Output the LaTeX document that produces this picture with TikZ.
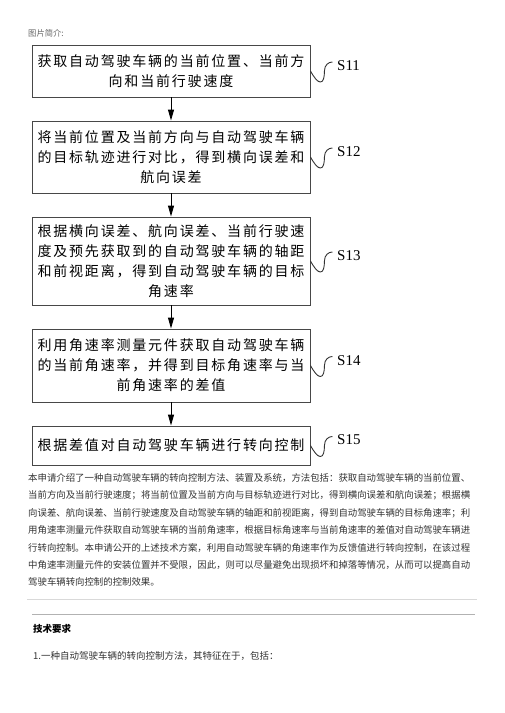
\documentclass[tikz,border=0pt]{standalone}
\usepackage{fontspec}
\newfontfamily\cjk{Noto Sans CJK SC}
\newfontfamily\cjkbox{Noto Sans CJK SC}[LetterSpace=12.9]
\newfontfamily\tms{Liberation Serif}
\usetikzlibrary{arrows.meta}
\def\jloopb#1{\ifx#1\relax\else\hfil#1\expandafter\jloopb\fi}
\def\jla#1#2\relax{#1\jloopb#2\relax}
\newcommand\jline[1]{\makebox[442pt][s]{\jla#1\relax}}
\tikzset{
  stepbox/.style={draw=black!72, line width=0.9pt, minimum width=278pt, inner sep=0pt, align=center,
    font=\cjkbox\fontsize{14}{20}\selectfont},
  arr/.style={line width=0.9pt, -{Triangle[length=11pt,width=6pt]}},
  sq/.style={line width=0.9pt, black!80},
  slabel/.style={anchor=west, inner sep=0pt, font=\tms\fontsize{15}{15}\selectfont},
  pline/.style={anchor=base west, inner sep=0pt, text=black!80, font=\cjk\fontsize{9.4}{9.4}\selectfont},
}
\newcommand\squig[1]{\draw[sq] (#1.east) .. controls +(4,7) and +(-3,0) .. ++(10,11) .. controls +(3,0) and +(0,6) .. ++(4,-11) .. controls +(0,-6) and +(-4,0) .. ++(8,-9);}
\begin{document}
\begin{tikzpicture}[x=1pt,y=-1pt]
\useasboundingbox[fill=white] (0,0) rectangle (504,713);
\node[anchor=west, inner sep=0pt, text=black!60, font=\cjk\fontsize{8.3}{8.3}\selectfont] (hdr) at (28,33) {图片简介:};

\node[stepbox, minimum height=52pt] (b1) at (171,71) {获取自动驾驶车辆的当前位置、当前方\\向和当前行驶速度};
\node[stepbox, minimum height=72pt] (b2) at (171,157) {将当前位置及当前方向与自动驾驶车辆\\的目标轨迹进行对比，得到横向误差和\\航向误差};
\node[stepbox, minimum height=88pt] (b3) at (171,261) {根据横向误差、航向误差、当前行驶速\\度及预先获取到的自动驾驶车辆的轴距\\和前视距离，得到自动驾驶车辆的目标\\角速率};
\node[stepbox, minimum height=73pt] (b4) at (171,365.5) {利用角速率测量元件获取自动驾驶车辆\\的当前角速率，并得到目标角速率与当\\前角速率的差值};
\node[stepbox, minimum height=39pt] (b5) at (171,445.5) {根据差值对自动驾驶车辆进行转向控制};

\draw[arr] (b1) -- (b2);
\draw[arr] (b2) -- (b3);
\draw[arr] (b3) -- (b4);
\draw[arr] (b4) -- (b5);

\node[slabel] (s11) at (337,66) {S11};
\node[slabel] (s12) at (337,152) {S12};
\node[slabel] (s13) at (337,256) {S13};
\node[slabel] (s14) at (337,361) {S14};
\node[slabel] (s15) at (337,440) {S15};
\squig{b1}\squig{b2}\squig{b3}\squig{b4}\squig{b5}

\node[pline] (p1) at (28,481.6) {\jline{本申请介绍了一种自动驾驶车辆的转向控制方法、装置及系统，方法包括：获取自动驾驶车辆的当前位置、}};
\node[pline] (p2) at (28,498.9) {\jline{当前方向及当前行驶速度；将当前位置及当前方向与目标轨迹进行对比，得到横向误差和航向误差；根据横}};
\node[pline] (p3) at (28,516.3) {\jline{向误差、航向误差、当前行驶速度及自动驾驶车辆的轴距和前视距离，得到自动驾驶车辆的目标角速率；利}};
\node[pline] (p4) at (28,533.6) {\jline{用角速率测量元件获取自动驾驶车辆的当前角速率，根据目标角速率与当前角速率的差值对自动驾驶车辆进}};
\node[pline] (p5) at (28,551.0) {\jline{行转向控制。本申请公开的上述技术方案，利用自动驾驶车辆的角速率作为反馈值进行转向控制，在该过程}};
\node[pline] (p6) at (28,568.3) {\jline{中角速率测量元件的安装位置并不受限，因此，则可以尽量避免出现损坏和掉落等情况，从而可以提高自动}};
\node[pline] (p7) at (28,585.7) {驾驶车辆转向控制的控制效果。};

\coordinate (r1a) at (27,599); \coordinate (r1b) at (477,599);
\draw[black!15, line width=0.8pt] (r1a) -- (r1b);
\coordinate (r2a) at (32,614); \coordinate (r2b) at (475,614);
\draw[black!30, line width=1pt] (r2a) -- (r2b);

\node[anchor=west, inner sep=0pt, font=\cjk\bfseries\fontsize{9.5}{9.5}\selectfont] (h2) at (33,629) {技术要求};
\node[anchor=west, inner sep=0pt, text=black!80, font=\cjk\fontsize{9.5}{9.5}\selectfont] (c1) at (33,656) {1.一种自动驾驶车辆的转向控制方法，其特征在于，包括：};
\end{tikzpicture}
\end{document}
